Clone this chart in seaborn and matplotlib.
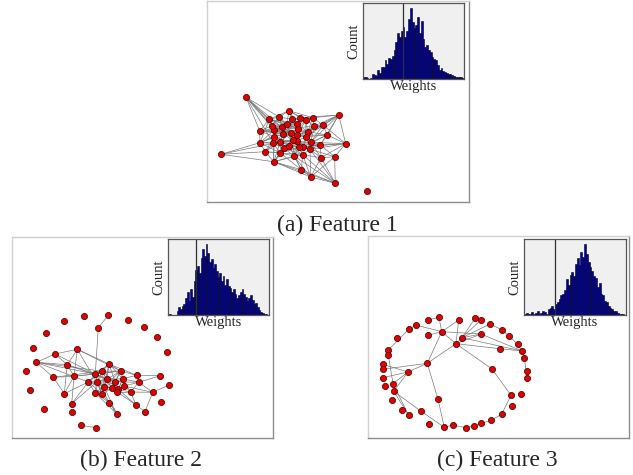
import numpy as np
import pandas as pd
import seaborn as sns
import matplotlib
matplotlib.use("Agg")
import matplotlib.pyplot as plt
from matplotlib.collections import LineCollection

sns.set_style("white")
plt.rcParams['font.family'] = ['Liberation Serif', 'DejaVu Serif']

# ---------------- data ----------------
captions = ["(a) Feature 1", "(b) Feature 2", "(c) Feature 3"]

# node layouts (pixel-like layout coordinates)
nodes_a_x = [246, 221, 366.7, 338.7, 345.7, 334.7, 335.3, 310.7, 301.3, 321, 273.7, 265.3, 260, 259.7,
             269.3, 279.3, 289, 291.7, 300.3, 312.7, 323, 327.3, 320.3, 310, 302.7, 294, 280.3, 284,
             273.3, 274.3, 272, 281.7, 286.7, 297.3, 305.7, 314.3, 307.7, 306, 298.3, 290.7, 283,
             280.3, 289.3, 296.7, 297.3, 292.7, 303.3, 310.7, 298.7, 274.3]
nodes_a_y = [97.3, 154.3, 191.3, 115, 143.7, 156.7, 183.3, 177, 169.7, 157.7, 161.7, 151.7, 142.7, 131,
             119.3, 117, 110.7, 119.3, 117.7, 117.7, 125, 135, 145, 149.3, 154.7, 156, 153, 148.3,
             143.3, 130, 125.7, 127.3, 124.3, 124.3, 120, 126, 131.7, 136.7, 128.7, 132.7, 134,
             141.7, 145.7, 141.3, 135.3, 140, 146.7, 142.3, 147.3, 136.7]
edges_a = {
    0: [13, 14, 29, 30, 31, 40, 15, 28], 1: [12, 11, 28, 10], 3: [19, 20, 35, 21, 18, 36, 47, 4, 22, 37],
    4: [21, 22, 5, 9, 47, 23, 46, 20], 5: [9, 22, 6, 23, 7], 6: [7, 9, 8, 24, 10, 25, 23],
    7: [8, 24, 23, 10, 25, 9], 8: [24, 25, 26, 10, 42], 9: [22, 23, 47, 24],
    10: [11, 26, 27, 25, 28, 42, 49, 41, 24], 11: [12, 28, 26, 49, 41, 24],
    12: [13, 28, 49, 29, 41, 14, 33, 40, 26], 13: [14, 29, 30, 49, 40, 36, 31, 39],
    14: [15, 30, 31, 16, 29, 38, 32, 33], 15: [16, 17, 31, 32, 30, 39], 16: [17, 18, 32, 33, 19, 34, 38],
    17: [18, 32, 33, 38, 39, 34, 19], 18: [19, 34, 33, 38], 19: [20, 34, 35, 36],
    20: [21, 35, 36, 47, 37, 44], 21: [22, 36, 37, 47, 44, 46], 22: [23, 47, 46, 37, 43, 48],
    23: [24, 46, 47, 48, 43, 37], 24: [25, 46, 48, 43, 42, 27], 25: [26, 27, 42, 48, 43, 45],
    26: [27, 28, 41, 48, 45, 42], 27: [28, 41, 42, 45, 43, 40, 44], 28: [49, 41, 40, 43, 45, 39],
    29: [30, 49, 40, 31, 35, 39, 32], 30: [31, 32, 44, 40, 38], 31: [32, 40, 39, 45, 33, 44],
    32: [33, 39, 38, 45, 40], 33: [34, 38, 44, 45, 36], 34: [35, 36, 38, 44, 37], 35: [36, 37, 47, 44],
    36: [37, 38, 44, 47, 45], 37: [43, 44, 46, 47, 40], 38: [39, 44, 45, 43, 40], 39: [40, 44, 45, 41, 42],
    40: [41, 49, 45], 41: [42, 45, 49, 43, 48], 42: [43, 45, 48, 46, 47], 43: [44, 45, 46, 48, 47],
    44: [45, 46, 48], 46: [47, 48, 49],
}

nodes_b_x = [64.3, 84.3, 108.3, 128.3, 144, 157, 167.3, 45.7, 98.3, 32.7, 77.3, 55, 36.3, 26.3, 67.3,
             53.3, 30, 64.3, 44.3, 71.7, 71.7, 81, 96, 116.7, 109.3, 145, 135.7, 161, 152.7, 169,
             160, 136.7, 138.7, 130.7, 124, 120.7, 109, 102.3, 95.3, 74, 88.3, 96.7, 106.7, 115,
             122.7, 104, 111.7, 118.3, 101.7, 95, 117.3]
nodes_b_y = [321.3, 316, 315.3, 319.7, 326.7, 337.3, 352, 332.7, 327.7, 348, 349.3, 354, 362.3, 371,
             364.7, 377.3, 390, 393.7, 408.7, 403.7, 411.7, 425.3, 427.7, 413.7, 402.7, 411.7, 404.7,
             402, 392.3, 385, 375.7, 375.3, 382.3, 392, 386, 371, 364, 371.3, 374, 376.3, 382, 382,
             379.3, 381.7, 378.7, 386.7, 388.3, 389.3, 394, 392.7, 392]
edges_b = {
    2: [8], 8: [38], 21: [22],
    10: [11, 14, 39, 36, 41, 35], 11: [12, 14, 38], 12: [15, 14, 38, 37, 40], 14: [39, 38, 17, 42],
    15: [39, 17, 37], 17: [39, 40], 19: [39, 40, 41],
    35: [36, 37, 42, 43, 44, 31, 39, 45, 46, 38], 36: [37, 38, 42, 31, 44, 43, 45, 40],
    37: [38, 41, 42, 45, 40, 43, 46, 49], 38: [40, 41, 42, 39, 43, 45, 48], 40: [41, 49, 45, 42, 48],
    41: [42, 45, 49, 48, 43, 46], 42: [43, 45, 46, 44, 47, 48], 43: [44, 46, 47, 32, 45, 50],
    44: [47, 31, 32, 34, 46, 50, 33], 45: [46, 48, 49, 47], 46: [47, 50, 48, 49, 33],
    47: [50, 34, 26], 48: [49, 24], 49: [24], 50: [33, 34, 26], 34: [33, 32, 28],
    31: [32, 30], 32: [30, 28, 33], 33: [26, 28], 26: [25], 28: [25, 29],
    24: [23], 23: [49, 45, 41],
}

nodes_c_x = [427.7, 439, 458.7, 475, 481, 490, 416, 408.7, 441.7, 428, 462, 481, 502.3, 508.7, 397,
             456, 517.7, 500, 522, 524.3, 388.3, 388.3, 382.7, 382.7, 382.7, 427.3, 408, 492, 527,
             527, 384.7, 393, 393.7, 391.7, 511, 521.3, 511.7, 438, 401.7, 408.7, 420.7, 501.7, 491,
             481, 474.3, 466, 452.7, 444.3, 429]
nodes_c_y = [320, 317.3, 320, 318.3, 320, 324, 325, 329.3, 331.7, 335.3, 337.7, 334, 330, 336, 337.7,
             343.7, 344, 348.7, 351, 357.7, 350, 355.3, 364.3, 369.3, 377.7, 363.3, 372, 369, 371,
             377.7, 386.3, 383.7, 391.3, 400.3, 395.3, 394, 406, 399.3, 410.3, 415.3, 411, 414.3,
             420.3, 423.3, 425.7, 427.7, 425, 427.3, 424.3]
edges_c = {
    7: [6, 20], 6: [8], 1: [8], 8: [2, 9, 15, 25, 11], 2: [15], 15: [10, 11, 17, 25, 27],
    10: [3, 4, 5, 11, 18], 5: [12], 12: [13], 13: [16], 16: [18], 18: [19], 19: [29],
    17: [18], 11: [18], 27: [34], 34: [41], 41: [42], 42: [43], 43: [44], 44: [45],
    45: [46], 46: [47], 37: [47], 25: [37, 26, 23], 40: [47], 32: [40, 26, 39],
    31: [26, 39], 26: [22, 24], 20: [21], 21: [31], 0: [1],
}

# histogram counts per bin (inset histograms)
hist_a = [3, 2, 1, 0, 1, 6, 5, 4, 12, 8, 15, 16, 24, 20, 27, 26, 30, 38, 48, 60, 55, 62, 68, 55, 62,
          78, 92, 74, 66, 70, 80, 60, 75, 52, 42, 44, 38, 35, 28, 26, 24, 18, 12, 14, 10, 9, 8, 7,
          7, 5, 4, 3, 3, 2, 2, 1]
hist_b = [1, 1, 0, 0, 0, 5, 10, 8, 12, 14, 22, 30, 18, 35, 24, 45, 60, 65, 55, 75, 88, 78, 94, 82,
          70, 74, 62, 68, 58, 50, 56, 45, 52, 40, 48, 38, 36, 30, 34, 28, 22, 26, 30, 34, 28, 24,
          18, 22, 26, 20, 14, 16, 10, 6, 4, 2, 1, 1, 0]
hist_c = [2, 3, 2, 1, 4, 2, 3, 5, 2, 3, 6, 4, 2, 8, 10, 12, 8, 15, 18, 22, 28, 30, 35, 50, 42, 56,
          60, 55, 72, 80, 70, 88, 82, 100, 86, 75, 68, 62, 55, 52, 40, 45, 30, 28, 20, 18, 12, 10,
          8, 6, 5, 3, 2, 1, 1, 0]
threshold_frac = [0.40, 0.277, 0.30]

# ---------------- layout ----------------
W, H = 633, 475
fig = plt.figure(figsize=(W / 100, H / 100), dpi=100)

def rect(x0, y0, x1, y1):
    return [x0 / W, 1 - y1 / H, (x1 - x0) / W, (y1 - y0) / H]

panel_boxes = [(207, 1, 469, 202), (12, 237, 273, 438), (368, 236, 629, 438)]
inset_boxes = [(363, 3, 464, 79), (168, 239, 269, 315), (524, 239, 626, 315)]
caption_pos = [(337, 231), (141, 466), (497, 466)]

nodes = [(nodes_a_x, nodes_a_y, edges_a), (nodes_b_x, nodes_b_y, edges_b), (nodes_c_x, nodes_c_y, edges_c)]
hists = [hist_a, hist_b, hist_c]

for i in range(3):
    x0, y0, x1, y1 = panel_boxes[i]
    ax = fig.add_axes(rect(x0, y0, x1, y1))
    nx, ny, ed = nodes[i]
    nx = np.array(nx); ny = np.array(ny)
    segs = [[(nx[a], ny[a]), (nx[b], ny[b])] for a, bs in ed.items() for b in bs]
    ax.add_collection(LineCollection(segs, colors='#7a7a7a', linewidths=0.5, zorder=1))
    df = pd.DataFrame({'x': nx, 'y': ny})
    sns.scatterplot(data=df, x='x', y='y', ax=ax, color='#e00000', edgecolor='#3a0000',
                    s=20, linewidth=0.5, zorder=3, legend=False)
    ax.set_xlim(x0, x1)
    ax.set_ylim(y1, y0)
    ax.set_xticks([]); ax.set_yticks([])
    ax.set_xlabel(''); ax.set_ylabel('')
    for s in ['left', 'top']:
        ax.spines[s].set_color('#d0d0d0')
    for s in ['right', 'bottom']:
        ax.spines[s].set_color('#8c8c8c')
    for s in ax.spines.values():
        s.set_linewidth(1.0)

    # inset histogram
    ix0, iy0, ix1, iy1 = inset_boxes[i]
    iax = fig.add_axes(rect(ix0, iy0, ix1, iy1))
    counts = np.array(hists[i], dtype=float)
    n = len(counts)
    bin_edges = [float(k) for k in range(n + 1)]
    hdf = pd.DataFrame({'w': counts, 'c': np.arange(n) + 0.5})
    sns.histplot(data=hdf, x='c', weights='w', bins=bin_edges, ax=iax, color='#00009a',
                 edgecolor='#000022', linewidth=0.4, alpha=1.0)
    iax.axvline(threshold_frac[i] * n, color='#303030', lw=0.9)
    iax.set_facecolor('#f0f0f0')
    iax.set_xlim(0, n)
    iax.set_ylim(0, counts.max() * 1.07)
    iax.set_xticks([]); iax.set_yticks([])
    iax.set_xlabel('Weights', fontsize=10.5, labelpad=1)
    iax.set_ylabel('Count', fontsize=10.5, labelpad=2)
    for s in iax.spines.values():
        s.set_color('#555555'); s.set_linewidth(0.9)

    cx, cy = caption_pos[i]
    fig.text(cx / W, 1 - cy / H, captions[i], ha='center', va='baseline', fontsize=17)

fig.savefig('out.png', dpi=100)
